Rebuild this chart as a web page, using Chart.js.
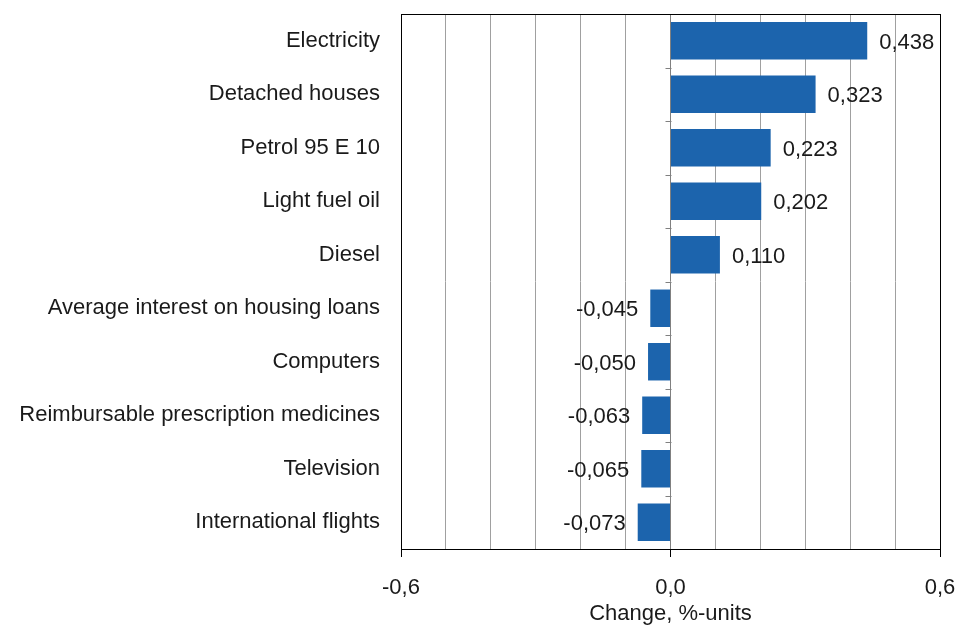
<!DOCTYPE html>
<html>
<head>
<meta charset="utf-8">
<script src="https://cdn.jsdelivr.net/npm/chart.js@4"></script>
<style>
html,body{margin:0;padding:0;background:#fff;}
#wrap{width:960px;height:627px;}
</style>
</head>
<body>
<div id="wrap"><canvas id="c" width="960" height="627"></canvas></div>
<script>
const categories = [
  "Electricity",
  "Detached houses",
  "Petrol 95 E 10",
  "Light fuel oil",
  "Diesel",
  "Average interest on housing loans",
  "Computers",
  "Reimbursable prescription medicines",
  "Television",
  "International flights"
];
const values = [0.438, 0.323, 0.223, 0.202, 0.110, -0.045, -0.050, -0.063, -0.065, -0.073];
const tickLabels = { "-0.6": "-0,6", "0": "0,0", "0.6": "0,6" };
const axisTitle = "Change, %-units";

const FONT = "'Liberation Sans', Arial, sans-serif";
const FS = 22;
const fmt = v => v.toFixed(3).replace('.', ',');

const framePlugin = {
  id: 'frame',
  afterDatasetsDraw(chart) {
    const {ctx, chartArea: a, scales} = chart;
    const y = scales.y, x = scales.x;
    ctx.save();
    const x0 = Math.round(x.getPixelForValue(0)) + 0.5;
    ctx.strokeStyle = '#808080';
    ctx.lineWidth = 1;
    for (let i = 0; i < categories.length - 1; i++) {
      const yy = Math.round((y.getPixelForValue(i) + y.getPixelForValue(i + 1)) / 2) + 0.5;
      ctx.beginPath();
      ctx.moveTo(x0 - 6, yy);
      ctx.lineTo(x0, yy);
      ctx.stroke();
    }
    ctx.font = FS + "px " + FONT;
    ctx.fillStyle = '#1a1a1a';
    ctx.textBaseline = 'middle';
    const meta = chart.getDatasetMeta(0);
    meta.data.forEach((bar, i) => {
      const v = values[i];
      if (v >= 0) {
        ctx.textAlign = 'left';
        ctx.fillText(fmt(v), bar.x + 12, bar.y + 2);
      } else {
        ctx.textAlign = 'right';
        ctx.fillText(fmt(v), bar.x - 12, bar.y + 2);
      }
    });
    ctx.strokeStyle = '#000';
    ctx.lineWidth = 1;
    ctx.strokeRect(Math.round(a.left) + 0.5, Math.round(a.top) + 0.5, Math.round(a.right - a.left), Math.round(a.bottom - a.top));
    ctx.restore();
  }
};

new Chart(document.getElementById('c'), {
  type: 'bar',
  data: {
    labels: categories,
    datasets: [{
      data: values,
      backgroundColor: '#1c64ad',
      borderWidth: 0,
      barPercentage: 0.7,
      categoryPercentage: 1.0
    }]
  },
  options: {
    indexAxis: 'y',
    responsive: false,
    animation: false,
    layout: { padding: { top: 14, right: 20, left: 0, bottom: 0 } },
    plugins: { legend: { display: false }, tooltip: { enabled: false } },
    scales: {
      x: {
        min: -0.6,
        max: 0.6,
        afterFit(s) { s.height = 78; s.paddingLeft = 0; s.paddingRight = 0; },
        ticks: {
          stepSize: 0.1,
          autoSkip: false,
          maxRotation: 0,
          padding: 18,
          color: '#1a1a1a',
          font: { family: FONT, size: FS },
          callback(v) {
            const k = String(Math.round(v * 10) / 10);
            return tickLabels[k] !== undefined ? tickLabels[k] : '';
          }
        },
        grid: {
          color(ctx) {
            const v = ctx.tick ? Math.round(ctx.tick.value * 10) / 10 : null;
            return v === 0 ? '#808080' : '#a0a0a0';
          },
          lineWidth: 1,
          tickLength: 8,
          tickColor(ctx) {
            const v = ctx.tick ? Math.round(ctx.tick.value * 10) / 10 : null;
            return (v === -0.6 || v === 0 || v === 0.6) ? '#000' : 'rgba(0,0,0,0)';
          }
        },
        border: { color: '#000', width: 1 },
        title: {
          display: true,
          text: axisTitle,
          color: '#1a1a1a',
          font: { family: FONT, size: FS },
          padding: { top: 0, bottom: 0 }
        }
      },
      y: {
        afterFit(s) { s.width = 401; s.paddingTop = 0; s.paddingBottom = 0; },
        ticks: {
          padding: 21,
          color: '#1a1a1a',
          font: { family: FONT, size: FS },
          autoSkip: false
        },
        grid: { drawOnChartArea: false, drawTicks: false },
        border: { color: '#000', width: 1 }
      }
    }
  },
  plugins: [framePlugin]
});
</script>
</body>
</html>
